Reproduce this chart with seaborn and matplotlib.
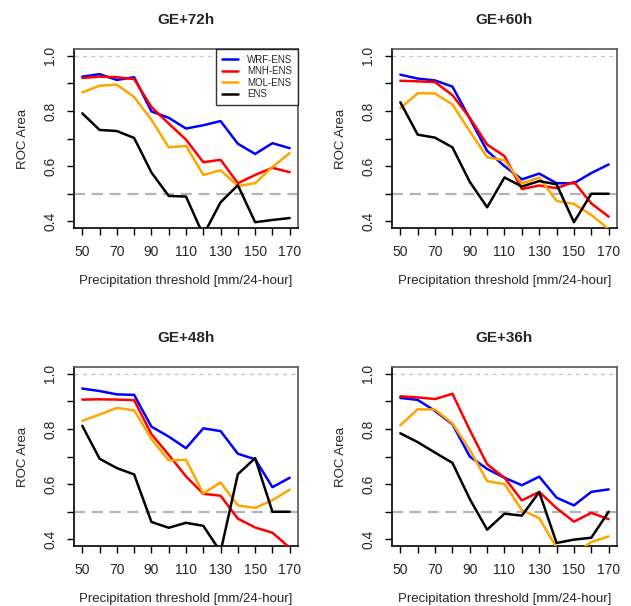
import numpy as np
import pandas as pd
import seaborn as sns
import matplotlib.pyplot as plt

thresholds = [50, 60, 70, 80, 90, 100, 110, 120, 130, 140, 150, 160, 170]
models = ['WRF-ENS', 'MNH-ENS', 'MOL-ENS', 'ENS']
colors = ['#0000FF', '#FF0000', '#FFA500', '#000000']
titles = ['GE+72h', 'GE+60h', 'GE+48h', 'GE+36h']

# ROC area per lead time
wrf_72 = [0.924, 0.933, 0.912, 0.922, 0.798, 0.775, 0.736, 0.748, 0.763, 0.681, 0.644, 0.683, 0.665]
mnh_72 = [0.919, 0.924, 0.922, 0.915, 0.814, 0.754, 0.696, 0.614, 0.623, 0.538, 0.568, 0.594, 0.578]
mol_72 = [0.867, 0.891, 0.895, 0.850, 0.768, 0.668, 0.673, 0.568, 0.585, 0.528, 0.538, 0.597, 0.647]
ens_72 = [0.791, 0.731, 0.727, 0.702, 0.577, 0.492, 0.490, 0.350, 0.469, 0.531, 0.397, 0.405, 0.412]

wrf_60 = [0.931, 0.917, 0.910, 0.888, 0.772, 0.655, 0.600, 0.552, 0.573, 0.538, 0.538, 0.575, 0.606]
mnh_60 = [0.909, 0.907, 0.904, 0.857, 0.775, 0.678, 0.636, 0.517, 0.530, 0.520, 0.543, 0.465, 0.417]
mol_60 = [0.810, 0.864, 0.863, 0.823, 0.726, 0.632, 0.621, 0.537, 0.559, 0.474, 0.463, 0.423, 0.372]
ens_60 = [0.831, 0.714, 0.703, 0.668, 0.543, 0.451, 0.559, 0.526, 0.546, 0.534, 0.397, 0.500, 0.500]

wrf_48 = [0.946, 0.937, 0.925, 0.923, 0.808, 0.772, 0.730, 0.802, 0.792, 0.710, 0.690, 0.589, 0.623]
mnh_48 = [0.906, 0.907, 0.906, 0.904, 0.781, 0.706, 0.628, 0.565, 0.558, 0.475, 0.443, 0.424, 0.370]
mol_48 = [0.829, 0.852, 0.876, 0.867, 0.763, 0.686, 0.688, 0.566, 0.606, 0.523, 0.514, 0.542, 0.580]
ens_48 = [0.811, 0.692, 0.658, 0.635, 0.463, 0.442, 0.460, 0.449, 0.355, 0.636, 0.694, 0.500, 0.500]

wrf_36 = [0.912, 0.905, 0.865, 0.817, 0.700, 0.655, 0.623, 0.596, 0.627, 0.551, 0.523, 0.572, 0.581]
mnh_36 = [0.918, 0.914, 0.908, 0.927, 0.796, 0.672, 0.623, 0.541, 0.572, 0.513, 0.464, 0.496, 0.473]
mol_36 = [0.813, 0.871, 0.870, 0.820, 0.724, 0.611, 0.600, 0.506, 0.477, 0.370, 0.348, 0.390, 0.411]
ens_36 = [0.784, 0.752, 0.714, 0.677, 0.546, 0.435, 0.493, 0.486, 0.571, 0.387, 0.399, 0.406, 0.500]

panels = [
    [wrf_72, mnh_72, mol_72, ens_72],
    [wrf_60, mnh_60, mol_60, ens_60],
    [wrf_48, mnh_48, mol_48, ens_48],
    [wrf_36, mnh_36, mol_36, ens_36],
]

sns.set_style('white')
plt.rcParams['font.family'] = ['Liberation Sans', 'DejaVu Sans']

fig = plt.figure(figsize=(6.31, 6.06), dpi=100)
W, H = 631, 606
# axes boxes in pixels: left, top, right, bottom
boxes = [(74, 49, 298, 228), (392, 49, 617, 228),
         (74, 367, 298, 546), (392, 367, 617, 546)]

for i, (title, series) in enumerate(zip(titles, panels)):
    l, t, r, b = boxes[i]
    ax = fig.add_axes([l / W, 1 - b / H, (r - l) / W, (b - t) / H])

    rows = []
    for m, vals in zip(models, series):
        for x, v in zip(thresholds, vals):
            rows.append({'threshold': x, 'roc': v, 'model': m})
    df = pd.DataFrame(rows)

    ax.axhline(1.0, color='#c8c8c8', linestyle=(0, (3, 3)), linewidth=1.0, zorder=1)
    ax.axhline(0.5, color='#b4b4b4', linestyle=(0, (5, 3)), linewidth=1.6, zorder=1)

    sns.lineplot(data=df, x='threshold', y='roc', hue='model', hue_order=models,
                 palette=colors, linewidth=1.8, ax=ax, legend=(i == 0), zorder=3)

    ax.set_xlim(45.2, 174.8)
    ax.set_ylim(0.376, 1.024)
    ax.set_xticks(thresholds)
    ax.set_xticklabels([str(x) if (x - 50) % 20 == 0 else '' for x in thresholds])
    yt = [0.4, 0.5, 0.6, 0.7, 0.8, 0.9, 1.0]
    ax.set_yticks(yt)
    ax.set_yticklabels(['0.4', '', '0.6', '', '0.8', '', '1.0'], rotation=90, va='center')
    ax.tick_params(axis='both', direction='out', length=5, width=1, color='black',
                   labelsize=10, pad=7, left=True, bottom=True)
    ax.set_xlabel('Precipitation threshold [mm/24-hour]', fontsize=9.5, labelpad=12)
    ax.set_ylabel('ROC Area', fontsize=9.5, labelpad=10)
    ax.set_title(title, fontsize=11, fontweight='bold', pad=18)

    for side in ['top', 'right']:
        ax.spines[side].set_color('#555555')
        ax.spines[side].set_linewidth(1.2)
    for side in ['left', 'bottom']:
        ax.spines[side].set_color('black')
        ax.spines[side].set_linewidth(1.2)

    if i == 0:
        leg = ax.legend(loc='upper right', fontsize=7, frameon=True, fancybox=False,
                        borderaxespad=0, handlelength=1.7, labelspacing=0.15,
                        borderpad=0.6, handletextpad=0.9)
        leg.get_frame().set_edgecolor('black')
        leg.get_frame().set_linewidth(1.0)
        for h in leg.get_lines():
            h.set_linewidth(1.8)

fig.savefig('out.png', dpi=100)
